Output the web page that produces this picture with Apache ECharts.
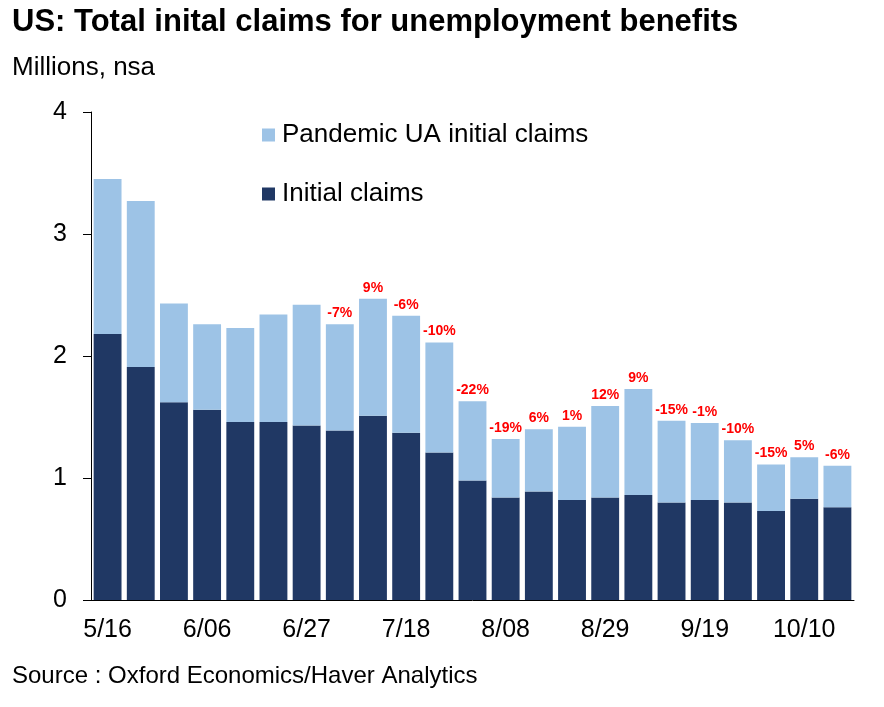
<!DOCTYPE html>
<html>
<head>
<meta charset="utf-8">
<script src="https://cdn.jsdelivr.net/npm/echarts@6/dist/echarts.min.js"></script>
<style>
  html, body { margin: 0; padding: 0; background: #fff; }
  #main { width: 884px; height: 707px; }
</style>
</head>
<body>
<div id="main"></div>
<script>
// weekly dates, millions nsa
var weeks = ['5/16', '5/23', '5/30', '6/06', '6/13', '6/20', '6/27', '7/04', '7/11', '7/18', '7/25', '8/01',
             '8/08', '8/15', '8/22', '8/29', '9/05', '9/12', '9/19', '9/26', '10/03', '10/10', '10/17'];
var initialClaims = [2.18, 1.91, 1.62, 1.56, 1.46, 1.46, 1.43, 1.39, 1.51, 1.37, 1.21, 0.98,
                     0.84, 0.89, 0.82, 0.84, 0.86, 0.80, 0.82, 0.80, 0.73, 0.83, 0.76];
var puaClaims = [1.27, 1.36, 0.81, 0.70, 0.77, 0.88, 0.99, 0.87, 0.96, 0.96, 0.90, 0.65,
                 0.48, 0.51, 0.60, 0.75, 0.87, 0.67, 0.63, 0.51, 0.38, 0.34, 0.34];
var pctChange = ['', '', '', '', '', '', '', '-7%', '9%', '-6%', '-10%', '-22%',
                 '-19%', '6%', '1%', '12%', '9%', '-15%', '-1%', '-10%', '-15%', '5%', '-6%'];
var yTicks = [0, 1, 2, 3, 4];

var FONT = '"Liberation Sans", Arial, sans-serif';

var chart = echarts.init(document.getElementById('main'));

var option = {
    backgroundColor: '#ffffff',
    animation: false,
    textStyle: { fontFamily: FONT },
    graphic: [
        {
            type: 'text', left: 12, top: 7,
            style: { text: 'US: Total inital claims for unemployment benefits', fill: '#000',
                     font: 'bold 31px ' + FONT }
        },
        {
            type: 'text', left: 12, top: 55,
            style: { text: 'Millions, nsa', fill: '#000', font: '26px ' + FONT }
        },
        {
            type: 'text', left: 12, top: 664,
            style: { text: 'Source : Oxford Economics/Haver Analytics', fill: '#000', font: '24px ' + FONT }
        }
    ],
    legend: {
        orient: 'vertical',
        left: 257,
        top: 117,
        itemWidth: 13,
        itemHeight: 13,
        itemGap: 33,
        icon: 'rect',
        data: ['Pandemic UA initial claims', 'Initial claims'],
        textStyle: { fontSize: 26, color: '#000', fontFamily: FONT, padding: [0, 0, 0, 2] }
    },
    grid: {
        left: 91,
        right: 30,
        top: 112,
        bottom: 107
    },
    xAxis: {
        type: 'category',
        data: weeks,
        boundaryGap: true,
        axisLine: { lineStyle: { color: '#000', width: 1 } },
        axisTick: { interval: 2, length: 8, lineStyle: { color: '#000' } },
        axisLabel: { interval: 2, fontSize: 25, color: '#000', margin: 18, fontFamily: FONT }
    },
    yAxis: {
        type: 'value',
        min: yTicks[0],
        max: yTicks[yTicks.length - 1],
        interval: 1,
        splitLine: { show: false },
        axisLine: { show: true, lineStyle: { color: '#000', width: 1 } },
        axisTick: { show: true, length: 8, lineStyle: { color: '#000' } },
        axisLabel: { fontSize: 25, color: '#000', margin: 24, fontFamily: FONT }
    },
    series: [
        {
            name: 'Initial claims',
            type: 'bar',
            stack: 'total',
            barCategoryGap: '16%',
            itemStyle: { color: '#203864' },
            data: initialClaims
        },
        {
            name: 'Pandemic UA initial claims',
            type: 'bar',
            stack: 'total',
            barCategoryGap: '16%',
            itemStyle: { color: '#9dc3e6' },
            label: {
                show: true,
                position: 'top',
                distance: 4,
                color: '#ff0000',
                fontWeight: 'bold',
                fontSize: 14,
                fontFamily: FONT,
                formatter: function (p) { return pctChange[p.dataIndex]; }
            },
            data: puaClaims
        }
    ]
};

chart.setOption(option);
</script>
</body>
</html>
